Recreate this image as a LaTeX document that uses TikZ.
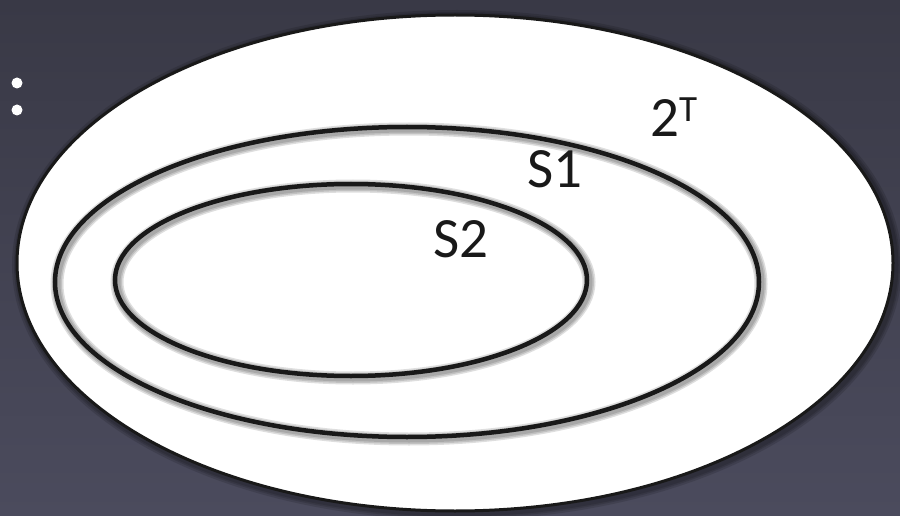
\documentclass[tikz,border=0pt]{standalone}
\usepackage{fontspec}
\setmainfont{Carlito}
\begin{document}
\begin{tikzpicture}[x=1pt,y=-1pt,
  ring/.style={draw=black!90,line width=4.5pt},
  halo/.style={draw=black,opacity=0.13,line width=#1},
  lbl/.style={anchor=base west,inner sep=0pt,text=black!90,font=\fontsize{57}{57}\selectfont},
  dot/.style={circle,fill=white,inner sep=0pt,minimum size=11pt}]
\definecolor{bgtop}{RGB}{57,57,70}
\definecolor{bgbot}{RGB}{75,75,93}
\shade[top color=bgtop,bottom color=bgbot] (0,0) rectangle (900,516);
\useasboundingbox (0,0) rectangle (900,516);
\node[dot] (d1) at (17,83) {};
\node[dot] (d2) at (17,110) {};
% outer ellipse
\foreach \w in {14,10,7} \draw[halo=\w pt] (457,265) ellipse [x radius=438,y radius=248];
\fill[white] (455,263) ellipse [x radius=438,y radius=248];
\draw[draw=black!90,line width=3pt] (455,263) ellipse [x radius=438,y radius=248];
% S1
\foreach \w in {13,10,7} \draw[halo=\w pt] (409,284) ellipse [x radius=352,y radius=155];
\draw[ring] (407,282) ellipse [x radius=352,y radius=155];
% S2
\foreach \w in {13,10,7} \draw[halo=\w pt] (353,282) ellipse [x radius=236,y radius=96];
\draw[ring] (351,280) ellipse [x radius=236,y radius=96];
% labels
\node[lbl] (t) at (650,137) {2\raisebox{15pt}{\fontsize{37}{37}\selectfont T}};
\node[lbl] (s1) at (527,187) {S1};
\node[lbl] (s2) at (433,257) {S2};
\end{tikzpicture}
\end{document}
